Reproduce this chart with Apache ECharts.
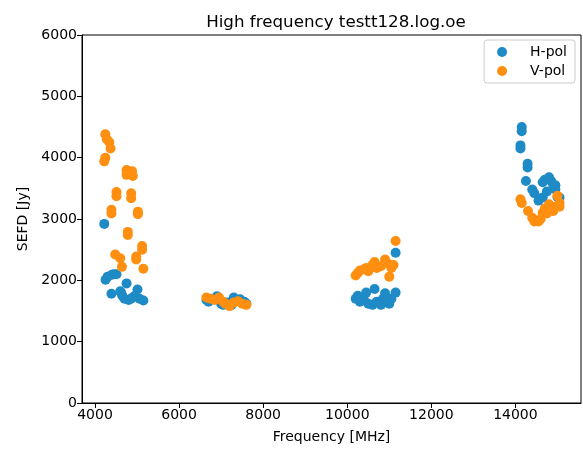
<!DOCTYPE html>
<html>
<head>
<meta charset="utf-8">
<script src="https://cdn.jsdelivr.net/npm/echarts@6/dist/echarts.min.js"></script>
<style>
  html, body { margin: 0; padding: 0; background: #fff; }
  #chart { width: 583px; height: 449px; }
</style>
</head>
<body>
<div id="chart"></div>
<script>
// H-pol points (frequency MHz, SEFD Jy)
var hPolFreq = [4220, 4250, 4300, 4400, 4450, 4510, 4390, 4600, 4650, 4700, 4750, 4800, 4850, 4900, 4950, 5010, 5060, 5150, 4620,
  6650, 6700, 6800, 6900, 7000, 7050, 7150, 7250, 7300, 7350, 7450, 7550, 7600,
  10200, 10250, 10300, 10400, 10450, 10500, 10600, 10650, 10700, 10800, 10850, 10900, 10950, 11000, 11050, 11150, 11150,
  14150, 14150, 14120, 14120, 14290, 14290, 14250, 14400, 14450, 14550, 14650, 14700, 14800, 14900, 14950, 15000, 14650, 14750, 14850, 14950, 15050];
var hPolSefd = [2920, 2010, 2060, 2090, 2100, 2100, 1780, 1820, 1750, 1700, 1950, 1680, 1700, 1720, 1750, 1850, 1700, 1670, 1800,
  1680, 1650, 1700, 1740, 1620, 1600, 1640, 1600, 1720, 1660, 1690, 1650, 1620,
  1700, 1750, 1650, 1680, 1800, 1620, 1600, 1860, 1650, 1600, 1700, 1790, 1650, 1620, 1700, 1800, 2450,
  4500, 4430, 4200, 4150, 3900, 3840, 3620, 3480, 3420, 3300, 3600, 3640, 3680, 3560, 3480, 3360, 3350, 3450, 3620, 3550, 3350];

// V-pol points
var vPolFreq = [4245, 4280, 4340, 4370, 4245, 4220, 4750, 4750, 4880, 4900, 4510, 4510, 4860, 4860, 4390, 4390, 5020, 5020, 4780, 4780, 5120, 5120, 4480, 4600, 4640, 4980, 4980, 5150,
  6650, 6750, 6850, 6950, 7050, 7100, 7200, 7300, 7400, 7500, 7600,
  10200, 10250, 10300, 10400, 10450, 10500, 10600, 10650, 10700, 10800, 10900, 10950, 11000, 11050, 11100, 11150,
  14120, 14150, 14300, 14400, 14450, 14550, 14650, 14700, 14800, 14900, 14950, 15050, 15050, 15000, 14750, 14600];
var vPolSefd = [4380, 4300, 4250, 4150, 4000, 3940, 3800, 3720, 3780, 3700, 3440, 3370, 3420, 3340, 3150, 3090, 3120, 3080, 2790, 2740, 2560, 2500, 2420, 2360, 2220, 2390, 2340, 2190,
  1720, 1700, 1680, 1720, 1650, 1620, 1580, 1640, 1660, 1620, 1600,
  2080, 2120, 2160, 2180, 2200, 2150, 2250, 2300, 2200, 2230, 2340, 2280, 2060, 2200, 2250, 2640,
  3320, 3260, 3130, 3020, 2960, 2960, 3100, 3170, 3240, 3130, 3200, 3260, 3200, 3380, 3090, 3000];

var xTicks = [4000, 6000, 8000, 10000, 12000, 14000];

function pairs(xs, ys) {
  var out = [];
  for (var i = 0; i < xs.length; i++) out.push([xs[i], ys[i]]);
  return out;
}
function plain(v) { return String(v); }

var chart = echarts.init(document.getElementById('chart'));
var font = 'DejaVu Sans';
chart.setOption({
  animation: false,
  title: {
    text: 'High frequency testt128.log.oe',
    left: 331, top: 9, textAlign: 'center',
    textStyle: { fontFamily: font, fontSize: 16.7, fontWeight: 'normal', color: '#000' }
  },
  legend: {
    right: 8, top: 40,
    orient: 'vertical',
    itemWidth: 10, itemHeight: 10, itemGap: 5,
    padding: [5, 8, 5, 13],
    borderColor: '#ccc', borderWidth: 1, borderRadius: 3,
    backgroundColor: 'rgba(255,255,255,0.8)',
    textStyle: { fontFamily: font, fontSize: 14, color: '#000', padding: [0, 0, 0, 18] },
    data: [{ name: 'H-pol', icon: 'circle' }, { name: 'V-pol', icon: 'circle' }]
  },
  grid: {
    left: 82, right: 2, top: 35, bottom: 43,
    show: true, borderColor: '#000', borderWidth: 1, backgroundColor: 'transparent'
  },
  xAxis: {
    type: 'value', min: 3690, max: 15560,
    name: 'Frequency [MHz]', nameLocation: 'middle', nameGap: 27,
    nameTextStyle: { fontFamily: font, fontSize: 14, color: '#000' },
    axisLine: { show: true, lineStyle: { color: '#000' } },
    axisTick: { show: true, inside: false, length: 5, lineStyle: { color: '#000' }, customValues: xTicks },
    axisLabel: { fontFamily: font, fontSize: 14, color: '#000', margin: 5, customValues: xTicks, formatter: plain },
    splitLine: { show: false }
  },
  yAxis: {
    type: 'value', min: 0, max: 6000, interval: 1000,
    name: 'SEFD [Jy]', nameLocation: 'middle', nameGap: 50, nameRotate: 90,
    nameTextStyle: { fontFamily: font, fontSize: 14, color: '#000' },
    axisLine: { show: true, lineStyle: { color: '#000' } },
    axisTick: { show: true, inside: false, length: 5, lineStyle: { color: '#000' } },
    axisLabel: { fontFamily: font, fontSize: 14, color: '#000', margin: 5, formatter: plain },
    splitLine: { show: false }
  },
  series: [
    {
      name: 'H-pol', type: 'scatter', symbol: 'circle', symbolSize: 10,
      itemStyle: { color: '#1f8bc6', opacity: 1 },
      data: pairs(hPolFreq, hPolSefd)
    },
    {
      name: 'V-pol', type: 'scatter', symbol: 'circle', symbolSize: 10,
      itemStyle: { color: '#ff8f10', opacity: 1 },
      data: pairs(vPolFreq, vPolSefd)
    }
  ]
});
</script>
</body>
</html>
